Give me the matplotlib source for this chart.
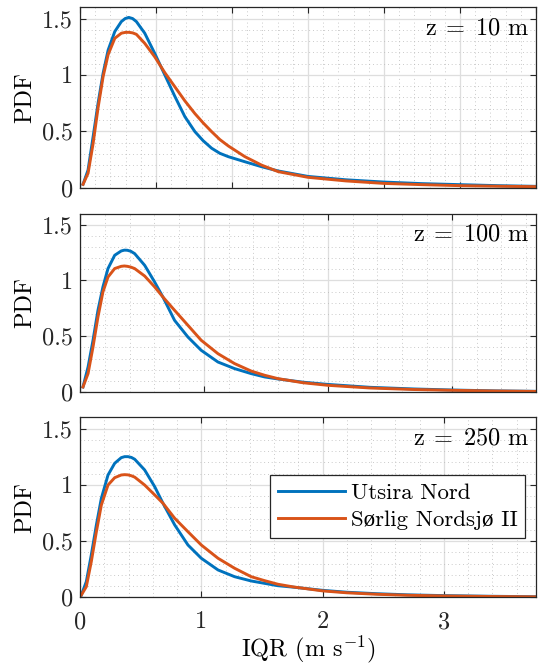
import numpy as np
import matplotlib
matplotlib.use("Agg")
import matplotlib.pyplot as plt
from matplotlib.ticker import MultipleLocator, FuncFormatter

plt.rcParams['font.family'] = ['cmr10', 'Liberation Serif', 'DejaVu Serif']
plt.rcParams['mathtext.fontset'] = 'cm'
plt.rcParams['axes.formatter.use_mathtext'] = True

# --- data (IQR in m/s, PDF) ---
x10 = [0.02, 0.053, 0.086, 0.119, 0.152, 0.185, 0.229, 0.272, 0.297, 0.321, 0.346,
       0.371, 0.426, 0.492, 0.558, 0.624, 0.69, 0.756, 0.81, 0.866, 0.92, 0.976,
       1.085, 1.195, 1.305, 1.5, 1.75, 2.0, 2.25, 2.5, 2.75, 3.0]
utsira10 = [0.03, 0.157, 0.45, 0.75, 1.015, 1.22, 1.385, 1.473, 1.5, 1.51, 1.5,
            1.473, 1.37, 1.19, 1.0, 0.81, 0.63, 0.497, 0.417, 0.35, 0.305, 0.275,
            0.23, 0.186, 0.148, 0.1, 0.07, 0.05, 0.036, 0.027, 0.018, 0.012]
sorlig10 = [0.03, 0.128, 0.39, 0.71, 0.985, 1.18, 1.325, 1.37, 1.377, 1.378, 1.373,
            1.36, 1.28, 1.16, 1.02, 0.895, 0.77, 0.657, 0.575, 0.497, 0.427, 0.37,
            0.275, 0.2, 0.142, 0.092, 0.06, 0.038, 0.027, 0.018, 0.013, 0.009]

x100 = [0.024, 0.065, 0.105, 0.145, 0.185, 0.226, 0.28, 0.333, 0.358, 0.382, 0.41,
        0.441, 0.522, 0.602, 0.669, 0.763, 0.871, 0.978, 1.113, 1.247, 1.381, 1.49,
        1.597, 1.8, 2.0, 2.34, 2.7, 3.0, 3.35, 3.68]
utsira100 = [0.045, 0.224, 0.464, 0.733, 0.942, 1.107, 1.226, 1.265, 1.272, 1.271, 1.262,
             1.241, 1.136, 0.987, 0.852, 0.643, 0.493, 0.374, 0.269, 0.21, 0.165, 0.135,
             0.117, 0.088, 0.068, 0.042, 0.027, 0.018, 0.01, 0.006]
sorlig100 = [0.045, 0.165, 0.404, 0.673, 0.897, 1.031, 1.107, 1.127, 1.13, 1.127, 1.12,
             1.107, 1.04, 0.943, 0.852, 0.733, 0.598, 0.464, 0.344, 0.255, 0.188, 0.15,
             0.12, 0.083, 0.06, 0.036, 0.022, 0.015, 0.009, 0.005]

x250 = [0.011, 0.052, 0.093, 0.135, 0.176, 0.231, 0.286, 0.34, 0.368, 0.396, 0.424,
        0.451, 0.533, 0.616, 0.684, 0.781, 0.89, 1.0, 1.138, 1.275, 1.412, 1.522,
        1.632, 1.76, 2.0, 2.2, 2.446, 2.7, 3.0, 3.4, 3.77]
utsira250 = [0.02, 0.139, 0.376, 0.643, 0.88, 1.087, 1.191, 1.241, 1.25, 1.25, 1.243,
             1.227, 1.132, 0.983, 0.836, 0.643, 0.465, 0.347, 0.243, 0.183, 0.145, 0.124,
             0.103, 0.09, 0.062, 0.045, 0.032, 0.022, 0.015, 0.009, 0.005]
sorlig250 = [0.02, 0.094, 0.316, 0.583, 0.82, 0.998, 1.063, 1.087, 1.09, 1.088, 1.08,
             1.068, 0.998, 0.91, 0.836, 0.702, 0.583, 0.465, 0.347, 0.258, 0.183, 0.148,
             0.116, 0.092, 0.057, 0.04, 0.027, 0.018, 0.012, 0.007, 0.004]

heights = [r'z$\;=\;$10 m', r'z$\;=\;$100 m', r'z$\;=\;$250 m']
xmax = [3.0, 3.68, 3.76]
xmajor = [0.5, 1.0, 1.0]
xminor = [0.1, 0.2, 0.2]
series = [(x10, utsira10, sorlig10), (x100, utsira100, sorlig100), (x250, utsira250, sorlig250)]

blue = '#0072BD'
orange = '#D95319'

fig = plt.figure(figsize=(5.42, 6.67), dpi=100)
boxes = [[0.1476, 0.7186, 0.8413, 0.2705],
         [0.1476, 0.4123, 0.8413, 0.2675],
         [0.1476, 0.1045, 0.8413, 0.2699]]

fmt = FuncFormatter(lambda v, p: ('%g' % round(v, 3)))

for i, ax_box in enumerate(boxes):
    ax = fig.add_axes(ax_box)
    x, u, s = series[i]
    ax.plot(x, u, color=blue, lw=2.1, label='Utsira Nord')
    ax.plot(x, s, color=orange, lw=2.1, label='Sørlig Nordsjø II')
    ax.set_xlim(0, xmax[i])
    ax.set_ylim(0, 1.6)
    ax.xaxis.set_major_locator(MultipleLocator(xmajor[i]))
    ax.xaxis.set_minor_locator(MultipleLocator(xminor[i]))
    ax.yaxis.set_major_locator(MultipleLocator(0.5))
    ax.yaxis.set_minor_locator(MultipleLocator(0.1))
    ax.yaxis.set_major_formatter(fmt)
    ax.xaxis.set_major_formatter(fmt)
    ax.grid(True, which='major', color='#dedede', lw=0.9, ls='-')
    ax.grid(True, which='minor', color='#b8b8b8', lw=0.6, ls=(0, (1, 3.5)))
    ax.set_axisbelow(True)
    ax.tick_params(which='major', direction='in', length=4, width=0.8,
                   top=True, right=True, labelsize=17.5, colors='#262626', pad=5)
    ax.tick_params(axis='x', which='major', pad=10)
    ax.tick_params(which='minor', length=0, top=True, right=True)
    for sp in ax.spines.values():
        sp.set_color('#262626')
        sp.set_linewidth(0.9)
    ax.set_ylabel('PDF', fontsize=17.5, labelpad=4)
    ax.text(0.985, 0.885, heights[i], transform=ax.transAxes, ha='right', va='center',
            fontsize=17.5)
    if i < 2:
        ax.tick_params(labelbottom=False)
    else:
        ax.set_xlabel('IQR (m s$^{-1}$)', fontsize=17.5, labelpad=0)
        leg = ax.legend(loc='upper right', bbox_to_anchor=(0.977, 0.679), fontsize=16.5,
                        fancybox=False, framealpha=1, edgecolor='#262626',
                        handlelength=2.9, handletextpad=0.26, labelspacing=0.3,
                        borderpad=0.35, borderaxespad=0)
        leg.get_frame().set_linewidth(0.9)

fig.savefig('out.png', dpi=100)
